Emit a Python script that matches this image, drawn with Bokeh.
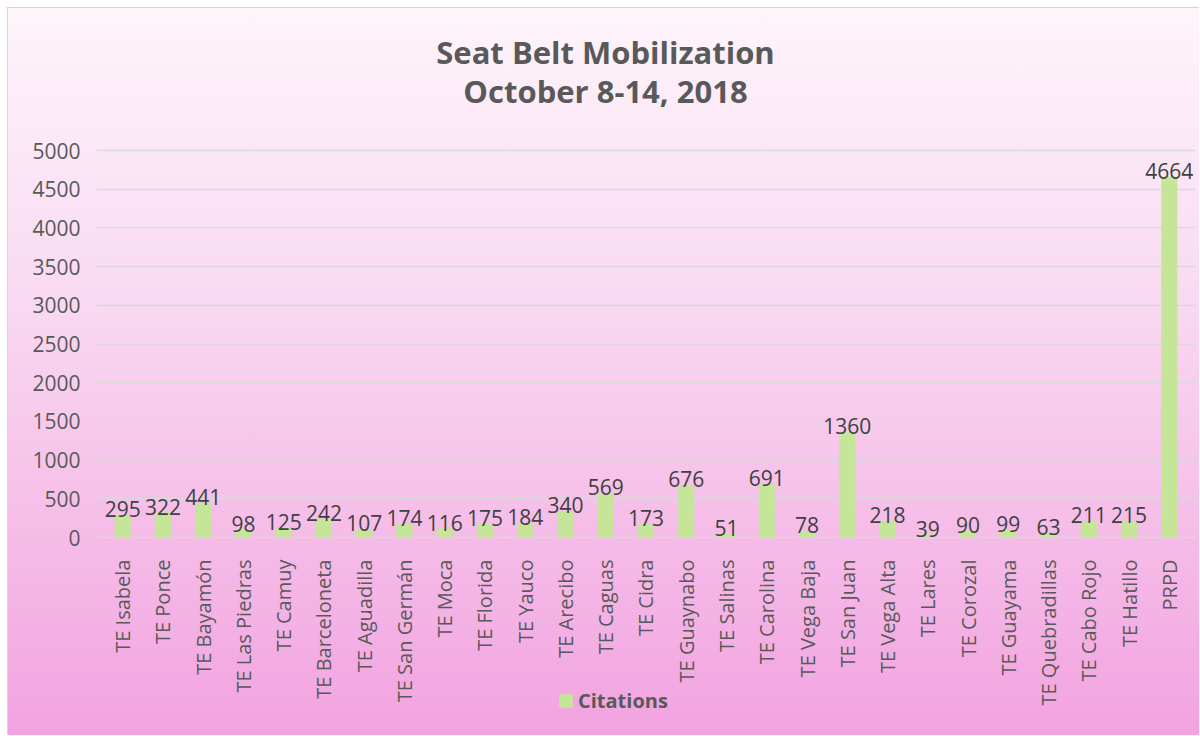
import math
from bokeh.plotting import figure
from bokeh.models import (FactorRange, Range1d, Label, Legend, LegendItem,
                          ColumnDataSource, FixedTicker)
from bokeh.embed import file_html
from bokeh.resources import INLINE

categories = ["TE Isabela", "TE Ponce", "TE Bayamón", "TE Las Piedras", "TE Camuy",
              "TE Barceloneta", "TE Aguadilla", "TE San Germán", "TE Moca", "TE Florida",
              "TE Yauco", "TE Arecibo", "TE Caguas", "TE Cidra", "TE Guaynabo",
              "TE Salinas", "TE Carolina", "TE Vega Baja", "TE San Juan", "TE Vega Alta",
              "TE Lares", "TE Corozal", "TE Guayama", "TE Quebradillas", "TE Cabo Rojo",
              "TE Hatillo", "PRPD"]
citations = [295, 322, 441, 98, 125, 242, 107, 174, 116, 175, 184, 340, 569, 173, 676,
             51, 691, 78, 1360, 218, 39, 90, 99, 63, 211, 215, 4664]
y_ticks = [0, 500, 1000, 1500, 2000, 2500, 3000, 3500, 4000, 4500, 5000]
title_line1 = "Seat Belt Mobilization"
title_line2 = "October 8-14, 2018"
series_name = "Citations"

FONT = "Open Sans"
GREY = "#595959"

src = ColumnDataSource(dict(cat=categories, val=citations,
                            lbl=[str(v) for v in citations]))

# frame spans the whole chart; the x axis is pinned at y = 0 inside it
p = figure(width=1192, height=728, title=None,
           x_range=FactorRange(*categories, range_padding=0.15,
                               range_padding_units="absolute"),
           y_range=Range1d(-2364, 6835), output_backend="svg", toolbar_location=None,
           min_border_left=88, min_border_right=5, min_border_top=0, min_border_bottom=16)

p.background_fill_color = None
p.border_fill_color = None
p.outline_line_color = None
p.styles = {"background-image": "linear-gradient(to bottom, #fef5fb 0%, #f9d9f1 40%, #f2a3e0 100%)",
            "border-left": "1px solid #d6d6d6", "border-top": "1px solid #d6d6d6",
            "margin": "7px 0 0 7px"}

r = p.vbar(x="cat", top="val", width=0.4, source=src, fill_color="#c5e599",
           line_color=None)

p.text(x="cat", y="val", text="lbl", source=src, text_align="center",
       text_baseline="bottom", text_font={"value": FONT}, text_font_size="21px",
       text_color="#404040", y_offset=2)

# axes
p.yaxis.ticker = FixedTicker(ticks=y_ticks)
p.yaxis.axis_line_color = None
p.yaxis.major_tick_line_color = None
p.yaxis.minor_tick_line_color = None
p.yaxis.major_label_standoff = 10
p.yaxis.major_label_text_font = FONT
p.yaxis.major_label_text_font_size = "21px"
p.yaxis.major_label_text_color = GREY

p.xaxis.fixed_location = 0
p.xaxis.axis_line_color = None
p.xaxis.major_tick_line_color = None
p.xaxis.major_label_orientation = math.pi / 2
p.xaxis.major_label_standoff = 16
p.xaxis.major_label_text_font = FONT
p.xaxis.major_label_text_font_size = "20px"
p.xaxis.major_label_text_color = GREY

p.xgrid.grid_line_color = None
p.ygrid.grid_line_color = "#d9d9d9"
p.ygrid.grid_line_width = 1.5

# title lines (screen units, measured from the frame's bottom-left)
for txt, ypos in ((title_line1, 669), (title_line2, 630)):
    p.add_layout(Label(x=509, y=ypos, x_units="screen", y_units="screen", text=txt,
                       text_align="center", text_baseline="middle", text_font=FONT,
                       text_font_size="31px", text_font_style="bold", text_color=GREY))

legend = Legend(items=[LegendItem(label=series_name, renderers=[r])],
                location=(461, 6), orientation="horizontal",
                background_fill_alpha=0, border_line_color=None,
                label_text_font=FONT, label_text_font_size="20px",
                label_text_font_style="bold", label_text_color=GREY,
                glyph_width=17, glyph_height=17, label_standoff=4,
                padding=0, margin=0)
p.add_layout(legend, "center")

open("out.html", "w").write(file_html(p, INLINE))
